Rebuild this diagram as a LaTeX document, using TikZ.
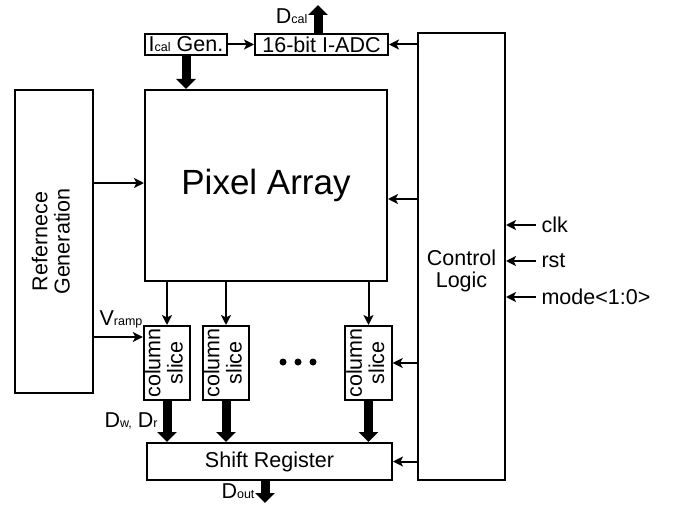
\documentclass[tikz,border=0pt]{standalone}
\usepackage{fontspec}
\setmainfont{Liberation Sans}
\usepackage{tikz}
\usetikzlibrary{arrows.meta}

\newcommand{\sm}[1]{{\fontsize{12.5}{12.5}\selectfont #1}}
\newcommand{\vtext}[2]{\rotatebox{90}{\begin{tabular}{@{}c@{}}#1\\#2\end{tabular}}}

\begin{document}
\begin{tikzpicture}[
  x=1pt, y=-1pt,
  font=\fontsize{21.5}{22}\selectfont,
  blk/.style={draw, line width=2pt, inner sep=1pt, align=center},
  arr/.style={line width=2pt, -{Stealth[length=10pt, width=10pt, inset=2.5pt]}},
  bus/.style={line width=9pt, -{Triangle[length=10pt, width=19pt]}}
]
\useasboundingbox (0,0) rectangle (677,508);
% blocks
\node[blk, minimum width=78, minimum height=303] (refgen) at (54,241.5) {\vtext{Refernece}{Generation}};
\node[blk, minimum width=242, minimum height=191, font=\fontsize{35}{36}\selectfont] (pix) at (266,185.5) {Pixel Array};
\node[blk, minimum width=82, minimum height=21] (ical) at (186,44.5) {I\sm{cal} Gen.};
\node[blk, minimum width=133, minimum height=21] (adc) at (321.5,44.5) {16-bit I-ADC};
\node[blk, minimum width=87, minimum height=447,
  label={[align=center, yshift=-14pt]center:Control\\Logic}] (ctrl) at (461.5,256.5) {};
\node[blk, minimum width=42, minimum height=74] (s1) at (167,363) {\vtext{column}{slice}};
\node[blk, minimum width=44, minimum height=74] (s2) at (226,363) {\vtext{column}{slice}};
\node[blk, minimum width=43, minimum height=74] (s3) at (368.5,363) {\vtext{column}{slice}};
\node[blk, minimum width=245, minimum height=37] (shift) at (269.5,461.5) {Shift Register};
\fill (283,362) circle (3.5pt) (298,362) circle (3.5pt) (313,362) circle (3.5pt);
% free ends
\coordinate (dcal) at (318,5);
\coordinate (dout) at (265,503);
\coordinate (clk) at (536,225);
\coordinate (rst) at (536,261);
\coordinate (mode) at (536,297);
% connectors
\draw[arr] (ical) -- (adc);
\draw[arr] (ctrl.west |- adc.east) -- (adc.east);
\draw[bus] (adc.north -| dcal) -- (dcal);
\draw[bus] (ical.south) -- (ical.south |- pix.north);
\draw[arr] (refgen.east |- 0,183) -- ([yshift=2.5pt]pix.west);
\draw[arr] (ctrl.west |- 0,199) -- ([yshift=-13.5pt]pix.east);
\draw[arr] (refgen.east |- 0,337) -- ([yshift=26pt]s1.west);
\draw[arr] (pix.south -| s1) -- (s1.north);
\draw[arr] (pix.south -| s2) -- (s2.north);
\draw[arr] (pix.south -| s3) -- (s3.north);
\draw[arr] (ctrl.west |- s3.east) -- (s3.east);
\draw[bus] (s1.south) -- (s1 |- shift.north);
\draw[bus] (s2.south) -- (s2 |- shift.north);
\draw[bus] (s3.south) -- (s3 |- shift.north);
\draw[arr] (ctrl.west |- shift.east) -- (shift.east);
\draw[bus] (shift.south -| dout) -- (dout);
\draw[arr] (clk) -- (ctrl.east |- clk);
\draw[arr] (rst) -- (ctrl.east |- rst);
\draw[arr] (mode) -- (ctrl.east |- mode);
% labels
\node[anchor=east] (ldcal) at (311,16) {D\sm{cal}};
\node (lvramp) at (121,319) {V\sm{ramp}};
\node (ldw) at (131,421) {D\sm{w,} D\sm{r}};
\node[anchor=east] (ldout) at (258,491) {D\sm{out}};
\node[anchor=west] (lclk) at (538,225) {clk};
\node[anchor=west] (lrst) at (538,261) {rst};
\node[anchor=west] (lmode) at (538,297) {mode<1:0>};
\end{tikzpicture}
\end{document}
